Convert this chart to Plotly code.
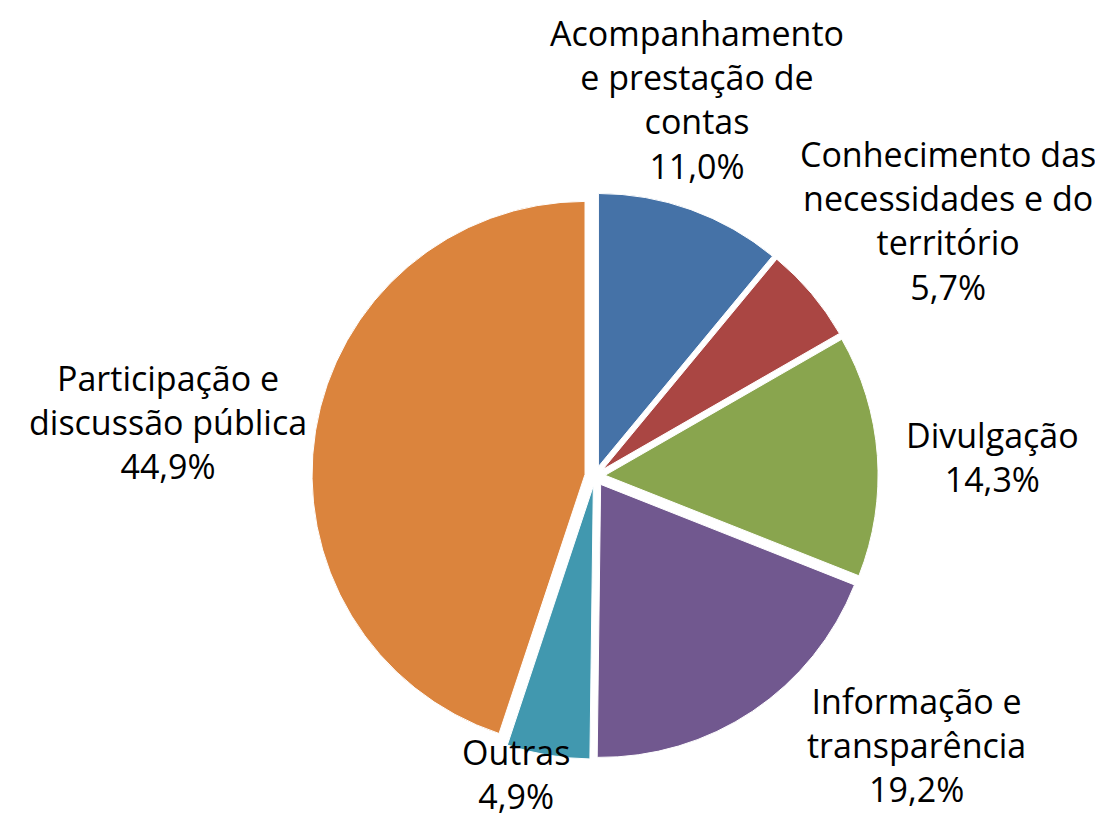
import plotly.graph_objects as go

categorias = ["Acompanhamento e prestação de contas",
              "Conhecimento das necessidades e do território",
              "Divulgação",
              "Informação e transparência",
              "Outras",
              "Participação e discussão pública"]
rotulos = ["Acompanhamento<br>e prestação de<br>contas",
           "Conhecimento das<br>necessidades e do<br>território",
           "Divulgação",
           "Informação e<br>transparência",
           "Outras",
           "Participação e<br>discussão pública"]
percentagens = [11.0, 5.7, 14.3, 19.2, 4.9, 44.9]
cores = ["#4572A7", "#AA4643", "#89A54E", "#71588F", "#4198AF", "#DB843D"]

W, H = 1103, 820
# centro dos rótulos em pixels (x, y a partir do topo)
pos_rotulos = [(689, 92), (940, 212), (984, 449), (908, 737), (508, 766), (160, 414)]

cx, cy, r, pull = 587, 468, 273, 0.037
half = r * (1 + pull)

fig = go.Figure(go.Pie(
    labels=categorias, values=percentagens,
    marker=dict(colors=cores, line=dict(color="white", width=1)),
    sort=False, direction="clockwise", rotation=0,
    pull=[pull] * len(percentagens),
    textinfo="none", hoverinfo="label+percent",
    showlegend=False,
    domain=dict(x=[(cx - half) / W, (cx + half) / W],
                y=[1 - (cy + half) / H, 1 - (cy - half) / H]),
))

for rot, val, (px_, py_) in zip(rotulos, percentagens, pos_rotulos):
    fig.add_annotation(
        text=f"{rot}<br>{val:.1f}%".replace(".", ","),
        x=px_ / W, y=1 - py_ / H, xref="paper", yref="paper",
        xanchor="center", yanchor="middle", showarrow=False,
        font=dict(size=34, color="black", family="Open Sans"),
    )

fig.update_layout(
    width=W, height=H,
    margin=dict(l=0, r=0, t=0, b=0),
    paper_bgcolor="white", plot_bgcolor="white",
)

fig.write_html("out.html")
